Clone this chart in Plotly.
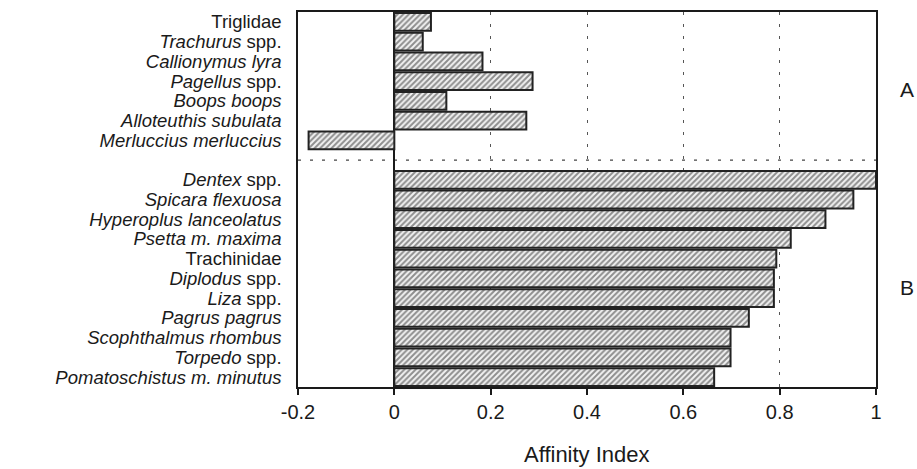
import plotly.graph_objects as go

# ---- data ----
group_a_labels = [
    "Triglidae",
    "<i>Trachurus</i> spp.",
    "<i>Callionymus lyra</i>",
    "<i>Pagellus</i> spp.",
    "<i>Boops boops</i>",
    "<i>Alloteuthis subulata</i>",
    "<i>Merluccius merluccius</i>",
]
group_a_values = [0.076, 0.059, 0.183, 0.287, 0.108, 0.274, -0.178]

group_b_labels = [
    "<i>Dentex</i> spp.",
    "<i>Spicara flexuosa</i>",
    "<i>Hyperoplus lanceolatus</i>",
    "<i>Psetta m. maxima</i>",
    "Trachinidae",
    "<i>Diplodus</i> spp.",
    "<i>Liza</i> spp.",
    "<i>Pagrus pagrus</i>",
    "<i>Scophthalmus rhombus</i>",
    "<i>Torpedo</i> spp.",
    "<i>Pomatoschistus m. minutus</i>",
]
group_b_values = [1.0, 0.953, 0.895, 0.823, 0.793, 0.788, 0.788, 0.736, 0.698, 0.698, 0.664]

x_ticks = [-0.2, 0, 0.2, 0.4, 0.6, 0.8, 1]
x_tick_text = ["-0.2", "0", "0.2", "0.4", "0.6", "0.8", "1"]
group_names = ["A", "B"]
x_title = "Affinity Index"

# ---- positions (one empty slot separates the two groups) ----
pos_a = list(range(len(group_a_labels)))
gap_pos = len(group_a_labels)
pos_b = [gap_pos + 1 + i for i in range(len(group_b_labels))]
positions = pos_a + pos_b
labels = group_a_labels + group_b_labels
values = group_a_values + group_b_values
n_slots = len(positions) + 1

FONT = "Liberation Sans, Arial, Helvetica, sans-serif"
INK = "#1a1a1a"

fig = go.Figure()
fig.add_trace(go.Bar(
    x=values,
    y=positions,
    orientation="h",
    width=0.9,
    marker=dict(
        color="#f2f2f2",
        line=dict(color="#222222", width=2),
        pattern=dict(shape="/", fgcolor="#2a2a2a", bgcolor="#f2f2f2",
                     size=4, solidity=0.5),
    ),
    showlegend=False,
    hoverinfo="x+y",
))

# dashed separator between the two groups
fig.add_shape(type="line", xref="paper", x0=0, x1=1, yref="y",
              y0=gap_pos, y1=gap_pos, layer="below",
              line=dict(color="#444444", width=1.2, dash="3px,9px"))

# group letters
center_a = (pos_a[0] + pos_a[-1]) / 2
center_b = (pos_b[0] + pos_b[-1]) / 2
for name, c in zip(group_names, [center_a, center_b]):
    fig.add_annotation(text=name, xref="paper", x=1.054, yref="y", y=c + 0.45,
                       showarrow=False, font=dict(family=FONT, size=21, color=INK),
                       xanchor="center", yanchor="middle")

# x-axis title as annotation (fixed position)
fig.add_annotation(text=x_title, xref="paper", x=0.5, yref="paper", y=-0.181,
                   showarrow=False, font=dict(family=FONT, size=22, color=INK),
                   xanchor="center", yanchor="middle")

fig.update_layout(
    width=917, height=469,
    margin=dict(l=298, r=41, t=12, b=82, autoexpand=False),
    paper_bgcolor="white",
    plot_bgcolor="white",
    font=dict(family=FONT, color=INK),
    bargap=0.1,
    xaxis=dict(
        range=[-0.2, 1.0],
        tickvals=x_ticks,
        ticktext=x_tick_text,
        tickfont=dict(family=FONT, size=20, color=INK),
        ticks="outside", ticklen=6, tickwidth=1.5, tickcolor=INK,
        showline=True, linecolor=INK, linewidth=1.5, mirror=True,
        showgrid=True, gridcolor="#555555", gridwidth=1, griddash="3px,9px",
        zeroline=True, zerolinecolor=INK, zerolinewidth=1.5,
        automargin=False,
    ),
    yaxis=dict(
        range=[n_slots - 0.5, -0.5],
        tickvals=positions,
        ticktext=labels,
        tickfont=dict(family=FONT, size=18.5, color=INK),
        ticks="", ticklabelstandoff=11,
        showline=True, linecolor=INK, linewidth=1.5, mirror=True,
        showgrid=False, zeroline=False,
        automargin=False,
    ),
)

fig.write_html("out.html")
